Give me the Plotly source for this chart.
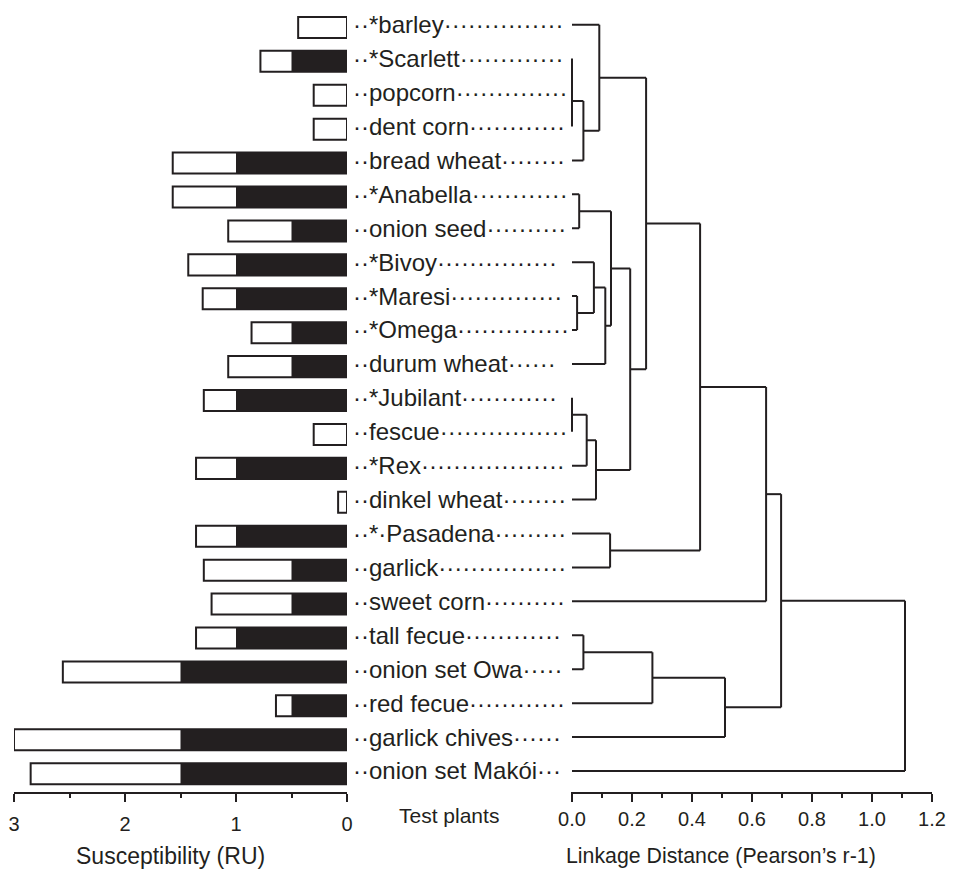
import plotly.graph_objects as go

# ---------------- data ----------------
plants = ["*barley", "*Scarlett", "popcorn", "dent corn", "bread wheat", "*Anabella",
          "onion seed", "*Bivoy", "*Maresi", "*Omega", "durum wheat", "*Jubilant",
          "fescue", "*Rex", "dinkel wheat", "*·Pasadena", "garlick", "sweet corn",
          "tall fecue", "onion set Owa", "red fecue", "garlick chives", "onion set Makói"]
leader_dots = [15, 13, 14, 12, 8, 12, 10, 15, 14, 14, 6, 12, 16, 18, 8, 9, 16, 10,
               12, 5, 12, 6, 3]
# susceptibility (RU): total bar length and the black (filled) part
total_ru = [0.44, 0.78, 0.30, 0.30, 1.57, 1.57, 1.07, 1.43, 1.30, 0.86, 1.07, 1.29,
            0.30, 1.36, 0.08, 1.36, 1.29, 1.22, 1.36, 2.56, 0.64, 3.00, 2.85]
black_ru = [0.0, 0.5, 0.0, 0.0, 1.0, 1.0, 0.5, 1.0, 1.0, 0.5, 0.5, 1.0,
            0.0, 1.0, 0.0, 1.0, 0.5, 0.5, 1.0, 1.5, 0.5, 1.5, 1.5]
# hierarchical clustering (leaves 0..22, new nodes numbered from 23)
link_a = [1, 23, 24, 0, 5, 8, 7, 29, 27, 11, 32, 33, 31, 26, 15, 36, 38, 18, 40, 41, 39, 43]
link_b = [2, 3, 4, 25, 6, 9, 28, 10, 30, 12, 13, 14, 34, 35, 16, 37, 17, 19, 20, 21, 42, 22]
link_h = [0.0, 0.0, 0.038, 0.091, 0.024, 0.017, 0.073, 0.111, 0.13, 0.0, 0.049, 0.08,
          0.194, 0.247, 0.127, 0.427, 0.647, 0.038, 0.268, 0.51, 0.697, 1.11]

left_ticks = [0, 1, 2, 3]
right_ticks = [0.0, 0.2, 0.4, 0.6, 0.8, 1.0, 1.2]

INK = "#231f20"
FONT = "Liberation Sans, Arial, sans-serif"
W, H = 957, 869

rows = list(range(len(plants)))

fig = go.Figure()

# ---------------- bars ----------------
fig.add_trace(go.Bar(
    y=rows, x=total_ru, orientation="h", width=0.62, offset=-0.23,
    marker=dict(color="white", line=dict(color=INK, width=2)),
    xaxis="x", yaxis="y", showlegend=False, hoverinfo="skip"))
fig.add_trace(go.Bar(
    y=rows, x=black_ru, orientation="h", width=0.62, offset=-0.23,
    marker=dict(color=INK, line=dict(color=INK, width=0)),
    xaxis="x", yaxis="y", showlegend=False, hoverinfo="skip"))

# ---------------- dendrogram ----------------
node_y = {i: float(i) for i in rows}
node_h = {i: 0.0 for i in rows}
xs, ys = [], []
for k, (a, b, h) in enumerate(zip(link_a, link_b, link_h)):
    nid = len(plants) + k
    for c in (a, b):
        xs += [node_h[c], h, None]
        ys += [node_y[c], node_y[c], None]
    xs += [h, h, None]
    ys += [node_y[a], node_y[b], None]
    node_y[nid] = (node_y[a] + node_y[b]) / 2
    node_h[nid] = h

fig.add_trace(go.Scatter(
    x=xs, y=ys, mode="lines", line=dict(color=INK, width=2),
    xaxis="x2", yaxis="y2", showlegend=False, hoverinfo="skip"))

# ---------------- layout ----------------
yr = [22.62, -0.728]
ybot = 77 / H
axis_common = dict(
    showline=True, linewidth=2, linecolor=INK, ticks="outside", ticklen=8,
    tickwidth=2, tickcolor=INK, showgrid=False, zeroline=False, automargin=False,
    tickfont=dict(family=FONT, size=20, color=INK), fixedrange=True)

fig.update_layout(
    template="none",
    width=W, height=H, margin=dict(l=0, r=0, t=0, b=0, pad=0), autosize=False,
    paper_bgcolor="white", plot_bgcolor="white", barmode="overlay",
    xaxis=dict(domain=[14 / W, 347 / W], range=[3, 0], anchor="y",
               tickvals=left_ticks, ticktext=[str(t) for t in left_ticks],
               minor=dict(dtick=0.5, ticklen=4, tickwidth=2, tickcolor=INK, ticks="outside"),
               ticklabelstandoff=5, **axis_common),
    yaxis=dict(domain=[ybot, 1], range=yr, visible=False, fixedrange=True, automargin=False),
    xaxis2=dict(domain=[(572 - 1.2) / W, 932 / W], range=[-0.004, 1.2], anchor="y2",
                tickvals=right_ticks, ticktext=["%.1f" % t for t in right_ticks],
                minor=dict(dtick=0.1, tick0=0, ticklen=4, tickwidth=2, tickcolor=INK, ticks="outside"),
                ticklabelstandoff=0, **axis_common),
    yaxis2=dict(domain=[ybot, 1], range=yr, visible=False, anchor="x2", fixedrange=True,
                automargin=False),
)

annotations = []
for i, (name, n) in enumerate(zip(plants, leader_dots)):
    annotations.append(dict(
        x=351 / W, xref="paper", y=i, yref="y", xanchor="left", yanchor="middle",
        text="··" + name + "·" * n, showarrow=False,
        font=dict(family=FONT, size=24, color=INK)))

annotations.append(dict(x=170 / W, y=1 - 856 / H, xref="paper", yref="paper",
                        text="Susceptibility (RU)", showarrow=False,
                        xanchor="center", yanchor="middle",
                        font=dict(family=FONT, size=23, color=INK)))
annotations.append(dict(x=449 / W, y=1 - 815 / H, xref="paper", yref="paper",
                        text="Test plants", showarrow=False,
                        xanchor="center", yanchor="middle",
                        font=dict(family=FONT, size=21, color=INK)))
annotations.append(dict(x=721 / W, y=1 - 856 / H, xref="paper", yref="paper",
                        text="Linkage Distance (Pearson’s r-1)", showarrow=False,
                        xanchor="center", yanchor="middle",
                        font=dict(family=FONT, size=21.3, color=INK)))
fig.update_layout(annotations=annotations)

fig.write_html("out.html")
